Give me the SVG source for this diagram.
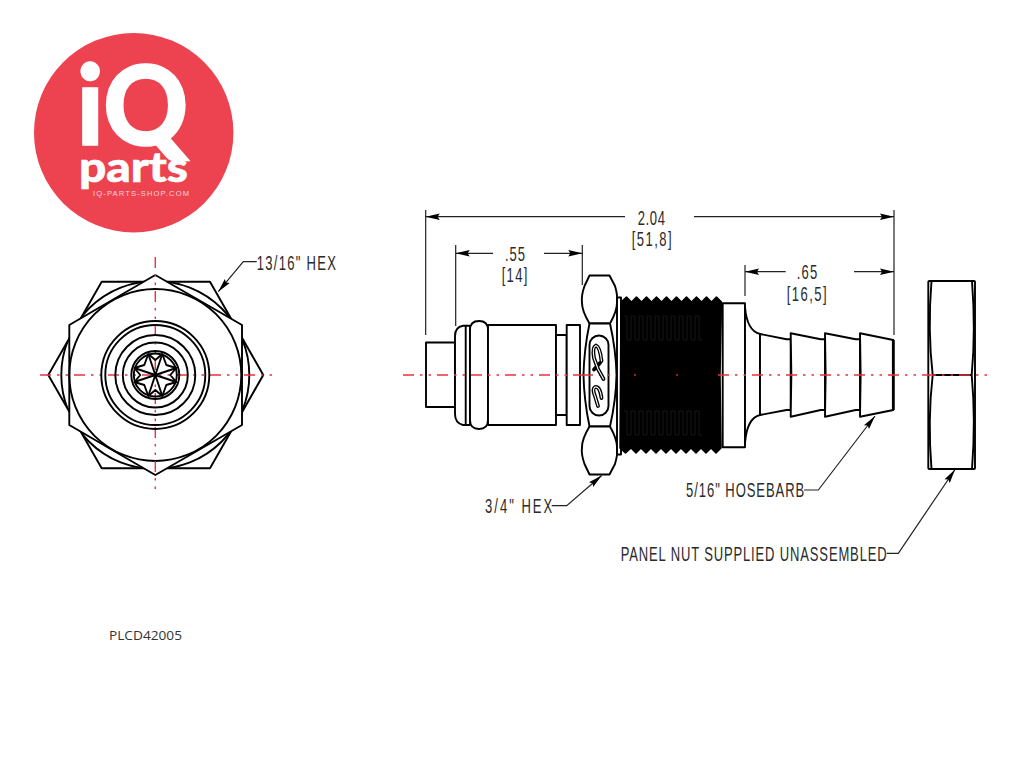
<svg xmlns="http://www.w3.org/2000/svg" xmlns:xlink="http://www.w3.org/1999/xlink" width="1024" height="768" viewBox="0 0 1024 768">
<style>
.o{fill:none;stroke:#000;stroke-width:1.9;stroke-linejoin:round}
.w{fill:#fff;stroke:#000;stroke-width:1.9;stroke-linejoin:round}
.c{fill:none;stroke:#e8323e;stroke-width:1.4;stroke-dasharray:11 6 2.5 6 2.5 6}
.d{fill:none;stroke:#222;stroke-width:1.2}
.t{font-family:"Liberation Sans",Arial,sans-serif;font-size:21px;fill:#2a2a2a}
.l{font-family:"Lato","Noto Sans",sans-serif;fill:#fff;font-weight:900}
</style>
<defs>
<marker id="a" markerUnits="userSpaceOnUse" markerWidth="16" markerHeight="8" viewBox="0 0 16 8" refX="15" refY="4" orient="auto-start-reverse">
<path d="M1 .8L15 4L1 7.200L3 4Z" fill="#000"/>
</marker>
<clipPath id="bighex"><path d="M101.7 281.7H210L263.3 375L210 468.3H101.7L48.3 375Z"/></clipPath>
<path id="tw" d="M624 0h3v24h4v-24h4v24h4v-24h4v24h4v-24h4v24h4v-24h4v24h4v-24h4v24h4v-24h4v24h4v-24h4v24h4v-24h4v24h4v-24h4v24h3" fill="none" stroke="#1d1d1d" stroke-width=".8"/>
</defs>
<rect width="1024" height="768" fill="#fff"/>

<g id="logo">
<circle cx="133.7" cy="132.7" r="99.7" fill="#ed4250"/>
<text class="l" x="76.500" y="144.500" font-size="110" stroke="#fff" stroke-width="1.500" textLength="112" lengthAdjust="spacingAndGlyphs">iQ</text>
<text class="l" x="79" y="181.500" font-size="41" stroke="#fff" stroke-width=".6" textLength="109" lengthAdjust="spacingAndGlyphs">parts</text>
<text x="93" y="195.700" font-family="'Liberation Sans',sans-serif" font-size="7.600" fill="#fbd5d8" textLength="96">IQ-PARTS-SHOP.COM</text>
</g>

<g id="connectors">
<path class="d" d="M425.700 210V335M894 210V335M455.700 245V326M582.300 245V285M745 265V296"/>
<path class="d" marker-start="url(#a)" d="M425.700 216.700H625"/>
<path class="d" marker-end="url(#a)" d="M694 216.700H894"/>
<path class="d" marker-start="url(#a)" d="M455.700 253.300H493"/>
<path class="d" marker-end="url(#a)" d="M544 253.300H582.300"/>
<path class="d" marker-start="url(#a)" d="M745 271.700H785.700"/>
<path class="d" marker-end="url(#a)" d="M854 271.700H894"/>
<path class="d" marker-end="url(#a)" d="M256.700 261.700H243.300L218.300 291.700"/>
<path class="d" marker-end="url(#a)" d="M551.700 505.700H566.700L601.700 475.500"/>
<path class="d" marker-end="url(#a)" d="M804 490H818.300L875 416"/>
<path class="d" marker-end="url(#a)" d="M886.700 553.300H898.300L955 469.500"/>
</g>

<g id="end-view">
<path class="w" d="M101.700 281.700H210L263.300 375L210 468.300H101.700L48.300 375Z"/>
<circle class="o" cx="155.300" cy="375" r="94" clip-path="url(#bighex)"/>
<path class="w" d="M155.300 275L242 325V425L155.300 475L69.300 425V325Z"/>
<circle class="o" cx="155.300" cy="375" r="86"/>
<path class="c" d="M40 375H275"/>
<path class="c" d="M155.300 257V492"/>
<circle class="o" cx="155.300" cy="375" r="54"/>
<circle class="o" cx="155.300" cy="375" r="50"/>
<circle class="o" cx="155.300" cy="375" r="40"/>
<circle class="o" cx="155.300" cy="375" r="32.500"/>
<circle class="o" cx="155.300" cy="375" r="24" stroke-width="2.400"/>
<circle class="o" cx="155.300" cy="375" r="21.500"/>
<g transform="translate(155.300 375)">
<path class="o" d="M-7 -21L7 21M7 -21L-7 21M-21 -7L21 7M-21 7L21 -7"/>
<path class="o" d="M-7 -21L0 -15L7 -21L11 -10L21 -7L15 0L21 7L11 10L7 21L0 15L-7 21L-11 10L-21 7L-15 0L-21 -7L-11 -10Z"/>
</g>
</g>

<g id="fitting">
<rect class="w" x="426" y="342.500" width="29" height="64.500"/>
<path class="w" d="M470 325.700H463Q455 327 455 336V414Q455 423 463 425H470Z"/>
<path class="o" d="M465.700 326V425"/>
<path class="w" d="M470 330Q470 321 479 321Q488 321 488 330V420Q488 429 479 429Q470 429 470 420Z"/>
<rect class="w" x="488" y="325" width="68" height="100"/>
<rect class="w" x="556" y="335" width="10.700" height="80"/>
<rect class="w" x="566.700" y="325" width="13.300" height="100"/>
<path class="c" d="M403 375H620"/>
<path class="w" d="M589.500 275.500H609.500L615 286Q618 296 617 303Q617 311 610 323.500H589.500Q582 311 582 303Q581 296 584.500 286Z"/>
<path class="w" d="M589.500 323.500H610Q616 350 616.500 375Q616 400 610 426.500H589.500Q584 400 583.500 375Q584 350 589.500 323.500Z"/>
<path class="w" d="M589.500 474.500H609.500L615 464Q618 454 617 447Q617 439 610 426.500H589.500Q582 439 582 447Q581 454 584.500 464Z"/>
<rect class="o" x="589.500" y="335.500" width="19" height="80" rx="9.500"/>
<path class="c" d="M582 375H620"/>
<g fill="none" stroke-linecap="round" stroke-linejoin="round">
<path stroke="#000" stroke-width="3.800" d="M601.500 361Q600 347 596 345.500Q592 347 594 358L598 369L603.500 379M594 369.500L600 363"/>
<path stroke="#fff" stroke-width="1.100" d="M601.500 361Q600 347 596 345.500Q592 347 594 358L598 369L603.500 379"/>
<path stroke="#000" stroke-width="3.800" d="M601.500 398Q600 386 595 387Q592 389 595 396L598 406"/>
<path stroke="#fff" stroke-width="1.100" d="M601.500 398Q600 386 595 387Q592 389 595 396L598 406"/>
</g>
<rect class="w" x="617" y="297.500" width="4" height="157"/>
<path d="M621 302l5.500 -5l5 5l5 -5l5 5l5 -5l5 5l5 -5l5 5l5 -5l5 5l5 -5l5 5l5 -5l5 5l5 -5l5 5l5 -5l5 5l5 -5l5 5L720 375L721 448l-5 5l-5 -5l-5 5l-5 -5l-5 5l-5 -5l-5 5l-5 -5l-5 5l-5 -5l-5 5l-5 -5l-5 5l-5 -5l-5 5l-5 -5l-5 5l-5 -5l-5.500 5l-5.500 -5Z" fill="#000" stroke="#000" stroke-width="1.500" stroke-linejoin="round"/>
<use xlink:href="#tw" href="#tw" y="316"/>
<use xlink:href="#tw" href="#tw" y="411"/>
<circle cx="635" cy="375" r=".9" fill="#e8323e"/>
<circle cx="677" cy="375" r=".9" fill="#e8323e"/>
<rect class="w" x="722.700" y="303.300" width="22.300" height="144"/>
<path class="w" d="M745 307Q747 331 760 334V415Q747 418 745 443Z"/>
<path class="w" d="M760 334L786.500 339.300H790.700V410H786.500L760 415Z"/>
<path class="w" d="M790.700 333.300L820.700 339.300H825V410H820.700L790.700 416.700Q792 375 790.700 333.300Z"/>
<path class="w" d="M825 333.300L855.700 339.300H860V410H855.700L825 416.700Q826.300 375 825 333.300Z"/>
<path class="w" d="M860 333.300L893.300 340V410L860 416.700Q861.300 375 860 333.300Z"/>
<path d="M893.300 340V410" stroke="#000" stroke-width="2.800" fill="none"/>
<path class="c" d="M718 375H925"/>
</g>

<g id="panel-nut">
<rect class="w" x="928.300" y="281" width="46.700" height="188" rx="1"/>
<path class="o" d="M931.500 281Q927.500 330 932.700 375Q927.500 420 931.500 469M972 281Q975.800 330 971.700 375Q975.800 420 972 469M932.700 375H971.700"/>
<path class="c" d="M925 375H989"/>
</g>

<g id="labels">
<text class="t" transform="translate(637.700 225) scale(.62 1)" textLength="44">2.04</text>
<text class="t" transform="translate(631.700 246) scale(.62 1)" textLength="64.500">[51,8]</text>
<text class="t" transform="translate(505 261) scale(.62 1)" textLength="32.300">.55</text>
<text class="t" transform="translate(501.700 282) scale(.62 1)" textLength="41.300">[14]</text>
<text class="t" transform="translate(796.700 279) scale(.62 1)" textLength="33.200">.65</text>
<text class="t" transform="translate(786.700 300.700) scale(.62 1)" textLength="64.500">[16,5]</text>
<text class="t" transform="translate(256.700 270) scale(.62 1)" textLength="127.900">13/16" HEX</text>
<text class="t" transform="translate(485 512.700) scale(.62 1)" textLength="108.500">3/4" HEX</text>
<text class="t" transform="translate(686 497.300) scale(.62 1)" textLength="190.800">5/16" HOSEBARB</text>
<text class="t" transform="translate(620.700 560.700) scale(.62 1)" textLength="429">PANEL NUT SUPPLIED UNASSEMBLED</text>
<text x="109" y="639.500" font-family="'Open Sans','Noto Sans',sans-serif" font-size="12.500" fill="#333" textLength="73" lengthAdjust="spacingAndGlyphs">PLCD42005</text>
</g>
</svg>
